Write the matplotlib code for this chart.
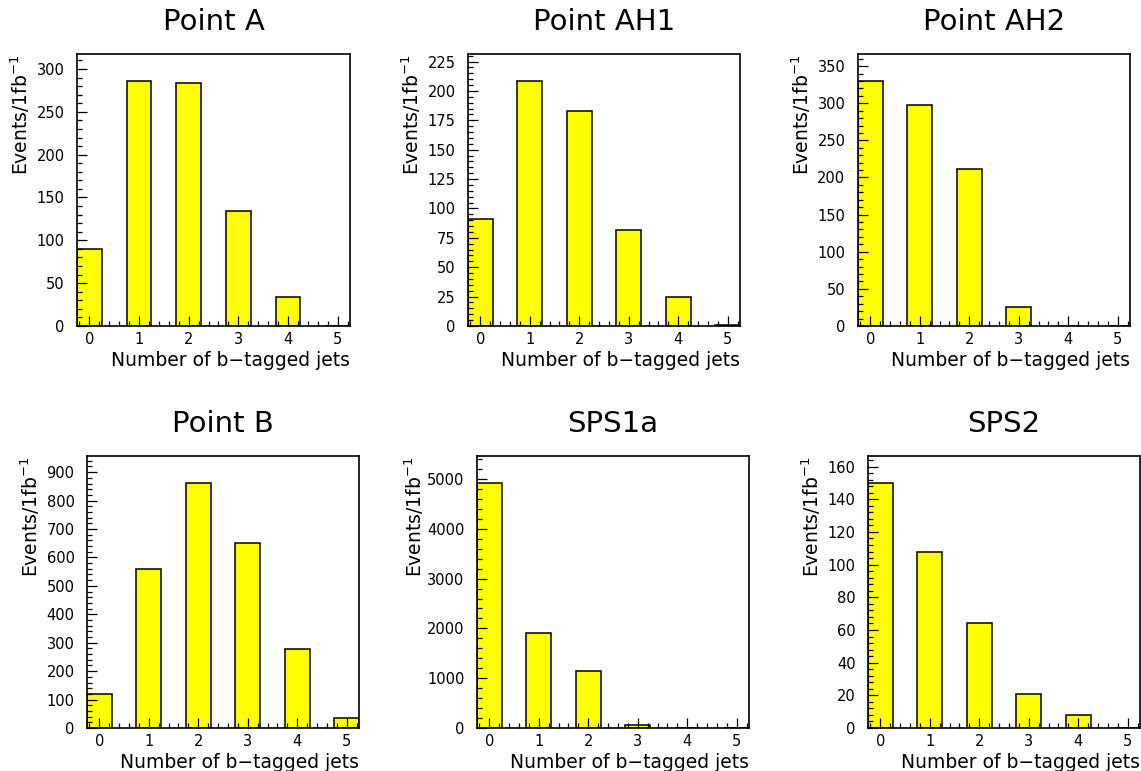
import matplotlib
matplotlib.use("Agg")
import matplotlib.pyplot as plt
import matplotlib.ticker as mticker
import numpy as np

# number of b-tagged jets per event, events per 1 fb^-1
n_btag = [0, 1, 2, 3, 4, 5]
point_a = [90, 286, 284, 134, 34, 0]
point_ah1 = [91, 208.5, 183, 82, 25, 1]
point_ah2 = [330, 297, 211, 25, 0, 0]
point_b = [121, 561, 862, 651, 278, 34]
sps1a = [4920, 1906, 1154, 67, 0, 0]
sps2 = [150, 108, 64, 21, 8, 0]

titles = ["Point A", "Point AH1", "Point AH2", "Point B", "SPS1a", "SPS2"]
series = [point_a, point_ah1, point_ah2, point_b, sps1a, sps2]
y_major = [50, 25, 50, 100, 1000, 20]
y_minor = [10, 5, 10, 20, 200, 4]

W, H = 1141, 771
# axes boxes in pixels: left, top, right, bottom
boxes = [
    (77, 54, 350, 326),
    (468, 54, 740, 326),
    (858, 54, 1130, 326),
    (87, 456, 359, 728),
    (477, 456, 749, 728),
    (868, 456, 1140, 728),
]
# y-label offset left of the axis, px (SPS1a has 4-digit labels)
ylab_off = [57, 57, 57, 57, 63, 57]

plt.rcParams["font.family"] = "DejaVu Sans"

fig = plt.figure(figsize=(W / 100, H / 100), dpi=100)

for title, vals, maj, mnr, (l, t, r, b), yoff in zip(
        titles, series, y_major, y_minor, boxes, ylab_off):
    ax = fig.add_axes((l / W, 1 - b / H, (r - l) / W, (b - t) / H))
    ax.bar(n_btag, vals, width=0.5, color="#ffff00", edgecolor="black", linewidth=1.1)
    ax.set_xlim(-0.25, 5.25)
    ax.set_ylim(0, 1.11 * max(vals))

    ax.xaxis.set_major_locator(mticker.MultipleLocator(1))
    ax.xaxis.set_minor_locator(mticker.MultipleLocator(0.2))
    ax.yaxis.set_major_locator(mticker.MultipleLocator(maj))
    ax.yaxis.set_minor_locator(mticker.MultipleLocator(mnr))

    ax.tick_params(which="both", direction="in", top=False, right=False, width=0.9)
    ax.tick_params(which="major", length=7)
    ax.tick_params(which="minor", length=3.5)
    ax.tick_params(axis="x", which="major", labelsize=10.5, pad=4)
    ax.tick_params(axis="y", which="major", labelsize=10.5, pad=9)
    for sp in ax.spines.values():
        sp.set_linewidth(1.2)

    ax.set_xlabel("Number of b\u2212tagged jets", fontsize=13.5, loc="right")
    ax.xaxis.set_label_coords(1.0, -25 / (b - t))
    ax.xaxis.label.set_va("top")
    ax.set_ylabel("Events/1fb$^{-1}$", fontsize=13.5, loc="top")
    ax.yaxis.set_label_coords(-yoff / (r - l), 1.0)
    ax.yaxis.label.set_va("center")

    fig.text((l + r) / 2 / W, 1 - (t - 32) / H, title, fontsize=21,
             ha="center", va="center")

fig.savefig("out.png", dpi=100)
